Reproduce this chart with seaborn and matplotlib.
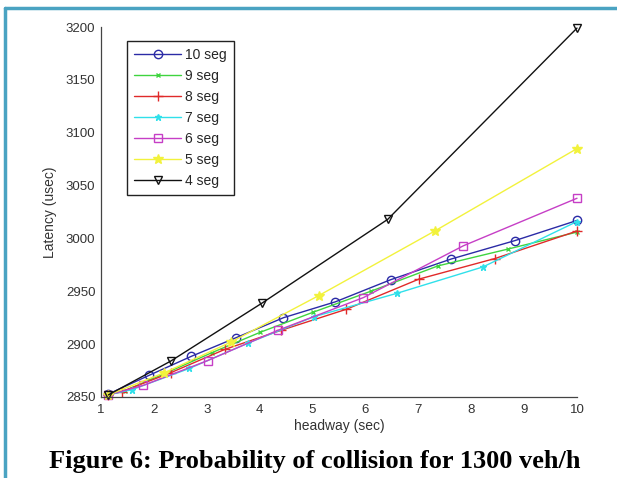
import pandas as pd
import seaborn as sns
import matplotlib.pyplot as plt
from matplotlib.lines import Line2D

# values
seg_labels = ["10 seg", "9 seg", "8 seg", "7 seg", "6 seg", "5 seg", "4 seg"]

x_10 = [1.14, 1.91, 2.71, 3.55, 4.45, 5.43, 6.48, 7.62, 8.83, 10.0]
y_10 = [2852.8, 2870.5, 2888.5, 2906, 2925, 2940, 2961, 2980.5, 2998, 3017]

x_9 = [1.14, 1.45, 2.2, 3.1, 4.0, 5.0, 6.1, 7.37, 8.7, 10.0]
y_9 = [2852, 2856, 2872, 2892, 2911, 2930, 2950, 2974, 2990, 3006]

x_8 = [1.14, 1.39, 2.32, 3.34, 4.4, 5.64, 7.01, 8.45, 10.0]
y_8 = [2852, 2855, 2873, 2895, 2913, 2933, 2961.5, 2981, 3007]

x_7 = [1.14, 1.59, 2.67, 3.78, 5.03, 6.59, 8.22, 10.0]
y_7 = [2852, 2857, 2877, 2901, 2926, 2948, 2973, 3016]

x_6 = [1.14, 1.80, 3.02, 4.34, 5.96, 7.85, 10.0]
y_6 = [2852, 2861, 2884.5, 2913, 2944, 2993, 3038]

x_5 = [1.14, 2.2, 3.46, 5.12, 7.31, 10.0]
y_5 = [2852, 2873, 2902, 2946, 3007, 3085]

x_4 = [1.14, 2.32, 4.05, 6.42, 10.0]
y_4 = [2852, 2884, 2939, 3018, 3199]

xs = [x_10, x_9, x_8, x_7, x_6, x_5, x_4]
ys = [y_10, y_9, y_8, y_7, y_6, y_5, y_4]

colors = ["#2b2ba6", "#3fd43f", "#e02a2a", "#30e0ea", "#c63fc6", "#f2f23c", "#111111"]
markers = ["o", "x", "+", "*", "s", "*", "v"]
msizes = [6, 3.5, 7, 5, 6, 7, 6]
filled = [False, True, True, True, False, True, False]

rows = []
for lab, xx, yy in zip(seg_labels, xs, ys):
    for a, b in zip(xx, yy):
        rows.append({"headway": a, "latency": b, "seg": lab})
df = pd.DataFrame(rows)

sns.set_style("white")
plt.rcParams["font.family"] = ["Liberation Sans", "DejaVu Sans"]
plt.rcParams["xtick.direction"] = "in"
plt.rcParams["ytick.direction"] = "in"

fig = plt.figure(figsize=(6.17, 4.78), dpi=100)
ax = fig.add_axes([0.1637, 0.1695, 0.7715, 0.774])

for i, lab in enumerate(seg_labels):
    sub = df[df["seg"] == lab]
    mfc = colors[i] if filled[i] else "none"
    sns.lineplot(data=sub, x="headway", y="latency", ax=ax, color=colors[i],
                 marker=markers[i], markersize=msizes[i], markerfacecolor=mfc,
                 markeredgecolor=colors[i], markeredgewidth=1.0, linewidth=1.0,
                 label=lab, sort=False, estimator=None, clip_on=False)

ax.set_xlim(1, 10)
ax.set_ylim(2850, 3200)
ax.set_xticks(range(1, 11))
ax.set_yticks(range(2850, 3201, 50))
ax.tick_params(axis="both", labelsize=9.5, colors="#333333", length=4, width=0.8,
               labelcolor="#333333")
ax.tick_params(axis="x", pad=5)
ax.tick_params(axis="y", pad=4)
for s in ["top", "right"]:
    ax.spines[s].set_visible(False)
for s in ["left", "bottom"]:
    ax.spines[s].set_color("#444444")
    ax.spines[s].set_linewidth(0.9)

ax.set_xlabel("headway (sec)", fontsize=10, color="#333333", labelpad=2)
ax.set_ylabel("Latency (usec)", fontsize=10, color="#333333", labelpad=6)

leg = ax.legend(loc="upper left", bbox_to_anchor=(0.0546, 0.962), borderaxespad=0,
                fontsize=10, frameon=True, fancybox=False, handlelength=3.4,
                handletextpad=0.3, labelspacing=0.5, borderpad=0.5)
leg.get_frame().set_edgecolor("#222222")
leg.get_frame().set_linewidth(1.0)
leg.get_frame().set_alpha(1)

fig.text(0.51, 0.035, "Figure 6: Probability of collision for 1300 veh/h",
         ha="center", va="center", fontsize=19, fontweight="bold",
         family="Liberation Serif", color="black")

# thin coloured frame on the left and top of the page
fig.add_artist(Line2D([0.008, 0.008], [0.0, 0.983], transform=fig.transFigure,
                      color="#4aa3c2", linewidth=2.5))
fig.add_artist(Line2D([0.008, 1.0], [0.983, 0.983], transform=fig.transFigure,
                      color="#4aa3c2", linewidth=2.5))

fig.savefig("out.png", dpi=100)
